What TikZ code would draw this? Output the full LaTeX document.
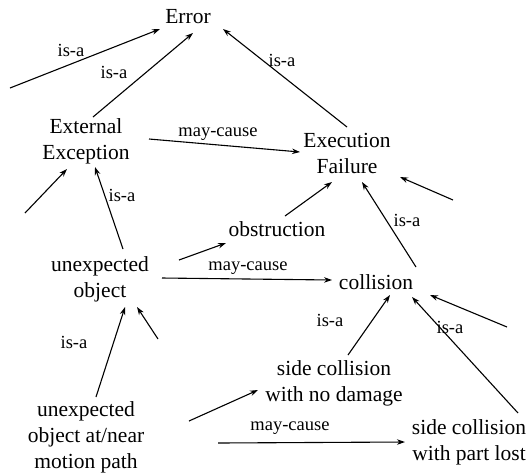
\documentclass[tikz,border=0pt]{standalone}
\usepackage{fontspec}
\setmainfont{Liberation Serif}
\usetikzlibrary{arrows.meta,calc}
\begin{document}
\begin{tikzpicture}[x=1pt,y=-1pt,
  concept/.style={align=center,inner sep=0pt,font=\fontsize{21.5}{26}\selectfont},
  rel/.style={inner sep=0pt,font=\fontsize{18.5}{20}\selectfont},
  link/.style={line width=1.1pt,-{Stealth[length=8pt,width=5.5pt]}}]
\useasboundingbox (0,0) rectangle (527,475);

% concepts
\node[concept] (err)  at (188,17)  {Error};
\node[concept] (ext)  at (86,141)  {External\\Exception};
\node[concept] (exe)  at (347,153) {Execution\\Failure};
\node[concept] (obs)  at (277,229) {obstruction};
\node[concept] (uo)   at (100,279) {unexpected\\object};
\node[concept] (col)  at (376,282) {collision};
\node[concept] (scnd) at (334,383) {side collision\\with no damage};
\node[concept] (uon)  at (86,437)  {unexpected\\object at/near\\motion path};
\node[concept] (scpl) at (469,442) {side collision\\with part lost};

% loose ends of links coming from outside
\coordinate (fa) at (10,88);
\coordinate (fb) at (453,200);
\coordinate (fc) at (25,213);
\coordinate (fd) at (158,339);
\coordinate (fe) at (507,327);

% links into Error
\draw[link] (fa) -- ($(err)+(-28,12)$);
\draw[link] ($(ext)+(7,-24)$) -- ($(err)+(5,16)$);
\draw[link] ($(exe)+(0,-26)$) -- ($(err)+(35,12)$);
\node[rel] (l1) at (71,50)  {is-a};
\node[rel] (l2) at (114,72) {is-a};
\node[rel] (l3) at (282,60) {is-a};

% links into Execution Failure
\draw[link] ($(ext)+(63,-2)$) -- ($(exe)+(-47,-1)$);
\node[rel] (l4) at (218,134) {may-cause};
\draw[link] ($(obs)+(8,-13)$) -- ($(exe)+(-15,29)$);
\draw[link] ($(col)+(40,-15)$) -- ($(exe)+(15,29)$);
\node[rel] (l5) at (407,220) {is-a};
\draw[link] (fb) -- ($(exe)+(53,24)$);

% links into External Exception
\draw[link] (fc) -- ($(ext)+(-19,28)$);
\draw[link] ($(uo)+(23,-30)$) -- ($(ext)+(9,26)$);
\node[rel] (l6) at (122,195) {is-a};

% links from unexpected object
\draw[link] ($(uo)+(79,-19)$) -- ($(obs)+(-51,14)$);
\draw[link] ($(uo)+(62,-1)$) -- ($(col)+(-44,-2)$);
\node[rel] (l7) at (248,268) {may-cause};

% links into unexpected object
\draw[link] ($(uon)+(10,-40)$) -- ($(uo)+(25,28)$);
\node[rel] (l8) at (74,342) {is-a};
\draw[link] (fd) -- ($(uo)+(37,28)$);

% links from unexpected object at/near motion path
\draw[link] ($(uon)+(103,-16)$) -- ($(scnd)+(-76,7)$);
\draw[link] ($(uon)+(132,6)$) -- ($(scpl)+(-64,0)$);
\node[rel] (l9) at (290,428) {may-cause};

% links into collision
\draw[link] ($(scnd)+(14,-28)$) -- ($(col)+(14,13)$);
\node[rel] (l10) at (330,320) {is-a};
\draw[link] ($(scpl)+(49,-29)$) -- ($(col)+(36,15)$);
\node[rel] (l11) at (450,327) {is-a};
\draw[link] (fe) -- ($(col)+(54,13)$);
\end{tikzpicture}
\end{document}
